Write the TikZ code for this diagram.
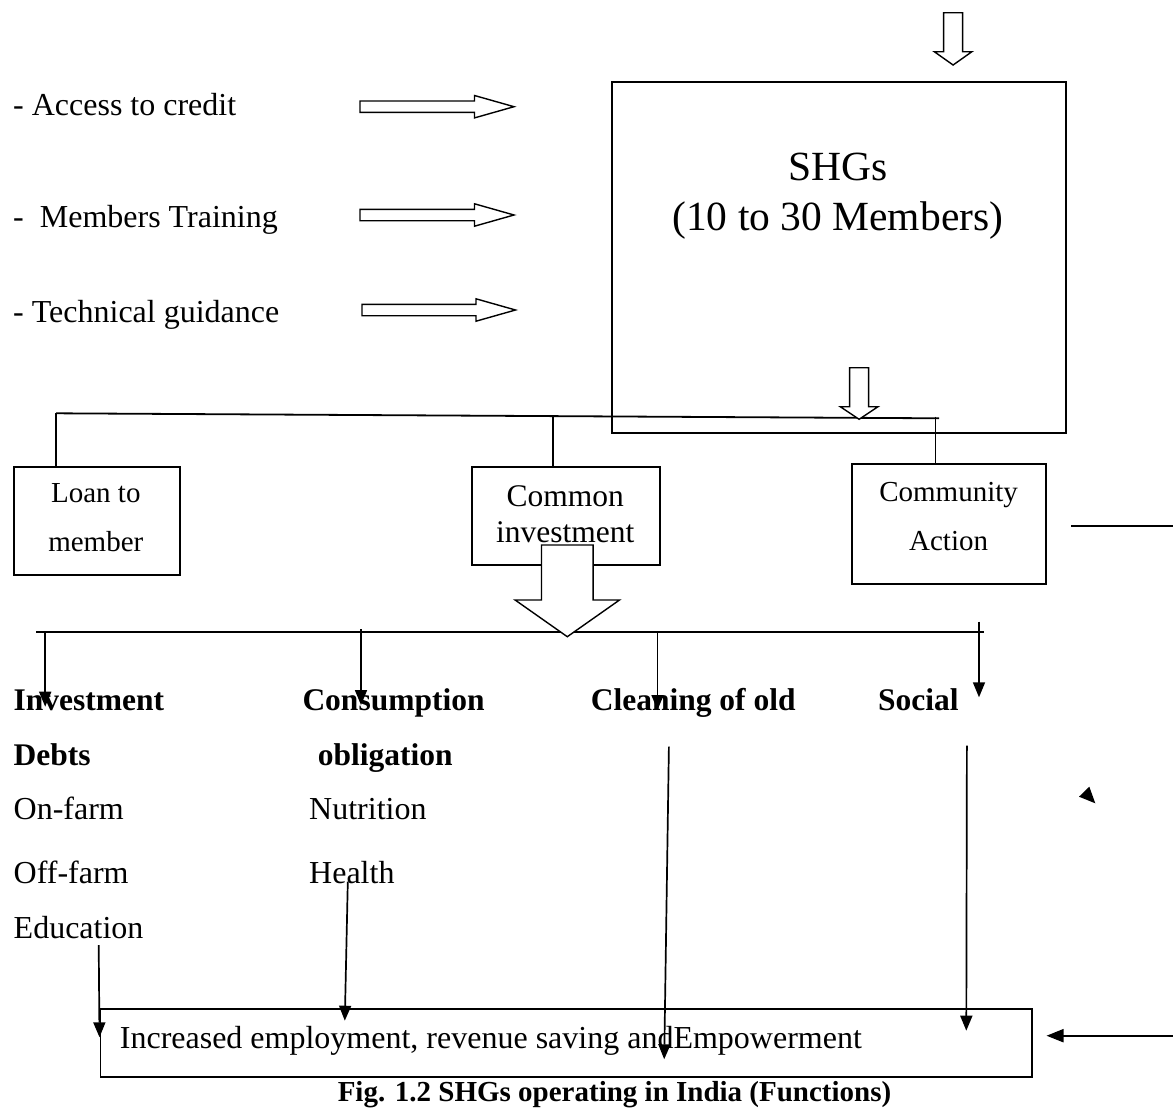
\documentclass[tikz,border=0pt]{standalone}
\usepackage{fontspec}
\setmainfont{Liberation Serif}
\usetikzlibrary{arrows.meta}
\begin{document}
\begin{tikzpicture}[x=1pt,y=-1pt,
  box/.style={draw, line width=1.8pt, inner sep=0pt, anchor=north west},
  lbl/.style={inner sep=0pt, anchor=base west, font=\fontsize{32}{38}\selectfont},
  blbl/.style={inner sep=0pt, anchor=base west, font=\fontsize{31.5}{37}\selectfont\bfseries},
  clbl/.style={inner sep=0pt, anchor=base},
  conn/.style={line width=1.8pt},
  dart/.style={line width=1.7pt, -{Triangle[length=15pt,width=12pt]}},
  harrow/.style={draw, line width=1.4pt, fill=white, line join=miter}
]
\useasboundingbox (0,0) rectangle (1173,1111);

% ---- left list ----
\node[lbl] (acc) at (13,115) {- Access to credit};
\node[lbl] (mem) at (13,227) {-\ \ Members Training};
\node[lbl] (tec) at (13,322) {- Technical guidance};

% hollow right arrows
\draw[harrow] (360,101) -- (474.5,101) -- (474.5,95.5) -- (514,106.7) -- (474.5,117.9) -- (474.5,112.3) -- (360,112.3) -- cycle;
\draw[harrow] (360,209.3) -- (474.5,209.3) -- (474.5,203.8) -- (514,215) -- (474.5,226.2) -- (474.5,220.7) -- (360,220.7) -- cycle;
\draw[harrow] (362,304.3) -- (476,304.3) -- (476,298.8) -- (515.5,310) -- (476,321.2) -- (476,315.7) -- (362,315.7) -- cycle;

% ---- SHG box ----
\node[box, minimum width=454pt, minimum height=350.7pt] (shg) at (611,81) {};
\node[clbl, font=\fontsize{41.5}{48}\selectfont] (shg1) at (837.8,180) {SHGs};
\node[clbl, font=\fontsize{41.5}{48}\selectfont] (shg2) at (837.8,230) {(10 to 30 Members)};

% top down hollow arrow
\draw[harrow] (943.6,12.7) -- (962.6,12.7) -- (962.6,51.7) -- (971.9,51.7) -- (953.1,65) -- (934.3,51.7) -- (943.6,51.7) -- cycle;

% ---- top branch line ----
\coordinate (t1) at (56,413.3);
\coordinate (t4) at (939,418.3);
\coordinate (t2) at (553,416.1);
\coordinate (t3) at (935.5,416.7);
\draw[conn] (t1) -- (t4);

% small down hollow arrow
\draw[harrow] (849.6,367.7) -- (868.6,367.7) -- (868.6,406.7) -- (878,406.7) -- (859.1,419.3) -- (840.2,406.7) -- (849.6,406.7) -- cycle;

% ---- three boxes ----
\node[box, minimum width=166.3pt, minimum height=108.3pt] (loan) at (12.7,465.7) {};
\node[box, minimum width=188.3pt, minimum height=98.3pt] (com) at (470.7,465.7) {};
\node[box, minimum width=194pt, minimum height=120pt] (cmt) at (851.2,463.3) {};

\draw[conn] (t1) -- (t1 |- loan.north);
\draw[conn] (t2) -- (t2 |- com.north);
\draw[conn] (t3) -- (t3 |- cmt.north);

\node[clbl, font=\fontsize{29}{34}\selectfont] (loan1) at (95.8,502.7) {Loan to};
\node[clbl, font=\fontsize{29}{34}\selectfont] (loan2) at (95.8,551.7) {member};
\node[clbl, font=\fontsize{31.5}{37}\selectfont] (com1) at (565.2,506) {Common};
\node[clbl, font=\fontsize{31.5}{37}\selectfont] (com2) at (565.2,542.7) {investment};
\node[clbl, font=\fontsize{29}{34}\selectfont] (cmt1) at (948.6,501.7) {Community};
\node[clbl, font=\fontsize{29}{34}\selectfont] (cmt2) at (948.6,550) {Action};

% free line right of Community Action
\coordinate (r1) at (1071,525.7);
\coordinate (r2) at (1173,525.7);
\draw[conn] (r1) -- (r2);

% ---- second branch line ----
\coordinate (b0) at (36.4,632.3);
\coordinate (b5) at (984,632.3);
\draw[conn] (b0) -- (b5);

% big hollow down arrow
\draw[harrow] (541.5,545) -- (593.1,545) -- (593.1,600) -- (619.5,600) -- (567.3,636.7) -- (515.1,600) -- (541.5,600) -- cycle;

\coordinate (a1s) at (45.2,632.3); \coordinate (a1e) at (45.2,706.7);
\coordinate (a2s) at (361,629);    \coordinate (a2e) at (361,705);
\coordinate (a3s) at (657.5,632.3);\coordinate (a3e) at (657.5,710);
\coordinate (a4s) at (979,621.7);  \coordinate (a4e) at (979,697.3);
\draw[dart] (a1s) -- (a1e);
\draw[dart] (a2s) -- (a2e);
\draw[dart] (a3s) -- (a3e);
\draw[dart] (a4s) -- (a4e);

% ---- headings ----
\node[blbl] (inv) at (13.4,710) {Investment};
\node[blbl] (cons) at (302.3,710) {Consumption};
\node[blbl] (clean) at (590.6,710) {Cleaning of old};
\node[blbl] (soc) at (878,710) {Social};
\node[blbl] (debt) at (13.4,765) {Debts};
\node[blbl] (obl) at (317.6,765) {obligation};

\node[lbl] (onf) at (13.5,819.3) {On-farm};
\node[lbl] (nut) at (309,819.3) {Nutrition};
\node[lbl] (off) at (13.5,883.3) {Off-farm};
\node[lbl] (hea) at (309,883.3) {Health};
\node[lbl] (edu) at (13.5,938.3) {Education};

% small filled triangle
\fill (1079,796.7) -- (1089.3,786.7) -- (1095.3,803.3) -- cycle;

% ---- bottom box ----
\node[box, minimum width=931.2pt, minimum height=67.7pt] (bot) at (99.5,1008.3) {};
\node[lbl, font=\fontsize{32}{38}\selectfont] (bottxt) at (119.7,1048.3) {Increased employment, revenue saving andEmpowerment};

\coordinate (e1s) at (98.7,945);   \coordinate (e1e) at (99.5,1037.3);
\coordinate (e2s) at (347.8,881.7);\coordinate (e2e) at (344.8,1020.7);
\coordinate (e3s) at (668.9,746.7);\coordinate (e3e) at (664.2,1059.3);
\coordinate (e4s) at (966.9,745.7);\coordinate (e4e) at (966.3,1030.7);
\draw[dart] (e1s) -- (e1e);
\draw[dart] (e2s) -- (e2e);
\draw[dart] (e3s) -- (e3e);
\draw[dart] (e4s) -- (e4e);

\coordinate (rin) at (1173,1035.7);
\draw[line width=2pt, -{Triangle[length=17pt,width=13pt]}, shorten >=14pt] (rin) -- (bot.east |- rin);

% caption
\node[clbl, font=\fontsize{29}{34}\selectfont\bfseries] (cap) at (614.5,1101.7) {Fig. 1.2 SHGs operating in India (Functions)};
\end{tikzpicture}
\end{document}
